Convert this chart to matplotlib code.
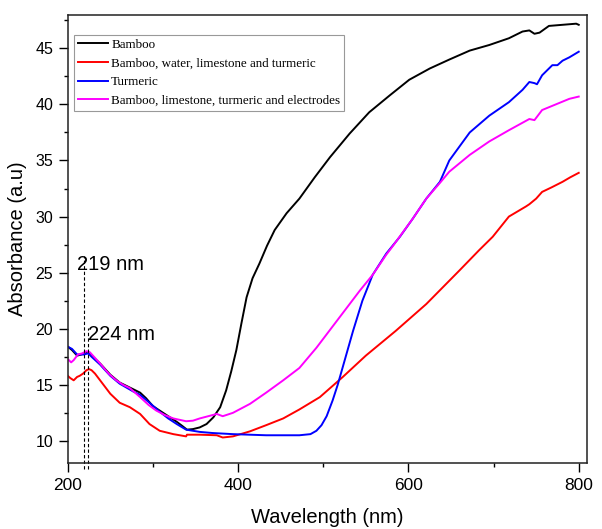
import matplotlib
matplotlib.use("Agg")
import matplotlib.pyplot as plt
from matplotlib.ticker import MultipleLocator

# UV-vis absorbance readings (wavelength in nm, absorbance in a.u)
wl_bamboo = [200, 205, 211, 216, 219, 224, 228, 238, 250, 261, 277, 285, 292, 300,
             308, 318, 328, 335, 340, 347, 355, 363, 371, 379, 386, 392, 398, 404,
             410, 417, 425, 434, 443, 457, 472, 490, 508, 531, 554, 578, 601, 625,
             648, 672, 695, 718, 734, 742, 748, 754, 765, 781, 797, 800]
abs_bamboo = [18.4, 18.1, 17.6, 17.7, 17.8, 17.9, 17.6, 16.9, 15.9, 15.2, 14.6, 14.3,
              13.8, 13.1, 12.7, 12.2, 11.7, 11.3, 11.0, 11.05, 11.2, 11.5, 12.1, 13.0,
              14.5, 16.2, 18.1, 20.5, 22.8, 24.5, 25.8, 27.4, 28.8, 30.3, 31.6, 33.5,
              35.3, 37.4, 39.3, 40.8, 42.2, 43.2, 44.0, 44.8, 45.3, 45.9, 46.5, 46.6,
              46.3, 46.4, 47.0, 47.1, 47.2, 47.1]

wl_mix = [200, 203, 207, 211, 214, 218, 222, 225, 228, 232, 238, 244, 250, 261, 273,
          285, 296, 308, 324, 339, 340, 355, 375, 382, 394, 414, 433, 453, 472, 496,
          523, 550, 585, 621, 660, 683, 699, 718, 738, 742, 750, 757, 768, 781, 790, 800]
abs_mix = [15.8, 15.6, 15.4, 15.7, 15.8, 16.0, 16.3, 16.4, 16.3, 16.0, 15.4, 14.8,
           14.2, 13.4, 13.0, 12.4, 11.5, 10.9, 10.6, 10.4, 10.55, 10.55, 10.5, 10.3,
           10.4, 10.85, 11.4, 12.0, 12.8, 13.9, 15.7, 17.6, 19.8, 22.2, 25.2, 27.0,
           28.2, 30.0, 30.9, 31.1, 31.6, 32.2, 32.6, 33.1, 33.5, 33.9]

wl_turmeric = [200, 205, 211, 219, 224, 228, 238, 250, 261, 277, 285, 296, 308, 318,
               328, 339, 347, 355, 370, 394, 433, 472, 485, 492, 498, 504, 511, 517,
               523, 529, 535, 546, 558, 574, 590, 605, 621, 637, 648, 672, 695, 718,
               734, 742, 748, 751, 757, 769, 775, 781, 789, 800]
abs_turmeric = [18.4, 18.2, 17.7, 17.7, 17.8, 17.5, 16.8, 15.8, 15.1, 14.4, 14.1,
                13.4, 12.6, 12.0, 11.5, 11.0, 10.9, 10.8, 10.7, 10.6, 10.5, 10.5, 10.6,
                10.9, 11.4, 12.2, 13.6, 15.0, 16.6, 18.2, 19.8, 22.5, 24.8, 26.7, 28.2,
                29.8, 31.6, 33.1, 35.0, 37.5, 39.0, 40.2, 41.3, 42.0, 41.9, 41.8, 42.6,
                43.5, 43.5, 43.9, 44.2, 44.7]

wl_electrodes = [200, 204, 207, 212, 217, 222, 226, 232, 238, 248, 257, 265, 273, 285,
                 295, 304, 314, 324, 339, 347, 355, 365, 375, 382, 394, 414, 433, 453,
                 472, 492, 511, 531, 543, 558, 574, 582, 605, 621, 637, 648, 672, 695,
                 718, 742, 748, 757, 773, 789, 800]
abs_electrodes = [17.3, 17.0, 17.2, 17.7, 17.8, 18.0, 17.9, 17.4, 16.9, 16.0, 15.4,
                  15.0, 14.7, 13.9, 13.2, 12.7, 12.3, 12.0, 11.75, 11.8, 12.0, 12.2,
                  12.4, 12.2, 12.5, 13.3, 14.3, 15.4, 16.5, 18.3, 20.2, 22.2, 23.4,
                  24.8, 26.6, 27.4, 29.8, 31.6, 33.0, 34.0, 35.5, 36.7, 37.7, 38.7,
                  38.6, 39.5, 40.0, 40.5, 40.7]

peaks = [219, 224]
peak_tops = [26.5, 20.1]
peak_labels = ["219 nm", "224 nm"]
label_pos = [(210.5, 25.7), (223.5, 19.5)]

fig = plt.figure(figsize=(6.02, 5.29), dpi=100)
ax = fig.add_axes([0.1125, 0.1242, 0.863, 0.848])

ax.plot(wl_bamboo, abs_bamboo, color="black", lw=1.4, label="Bamboo")
ax.plot(wl_mix, abs_mix, color="#ff0000", lw=1.4,
        label="Bamboo, water, limestone and turmeric")
ax.plot(wl_turmeric, abs_turmeric, color="#0000ff", lw=1.4, label="Turmeric")
ax.plot(wl_electrodes, abs_electrodes, color="#ff00ff", lw=1.4,
        label="Bamboo, limestone, turmeric and electrodes")

# dashed markers for the two peaks, running a little past the x axis
for x, top in zip(peaks, peak_tops):
    ax.plot([x, x], [7.45, top], color="black", lw=0.8, ls=(0, (3, 2)), clip_on=False)
for txt, (x, y) in zip(peak_labels, label_pos):
    ax.text(x, y, txt, fontsize=14.5, family="Liberation Sans", va="center", ha="left")

ax.set_xlim(200, 810)
ax.set_ylim(8, 48)
ax.xaxis.set_major_locator(MultipleLocator(200))
ax.xaxis.set_minor_locator(MultipleLocator(100))
ax.yaxis.set_major_locator(MultipleLocator(5))
ax.yaxis.set_minor_locator(MultipleLocator(2.5))
ax.tick_params(which="major", direction="out", length=6.5, width=1, pad=4)
ax.tick_params(which="minor", direction="out", length=3, width=1)
ax.tick_params(axis="x", labelsize=12.5)
ax.tick_params(axis="y", labelsize=11.5)
for lbl in ax.get_xticklabels() + ax.get_yticklabels():
    lbl.set_family("Liberation Sans")
for sp in ax.spines.values():
    sp.set_linewidth(1.1)
    sp.set_color("#222222")

ax.set_xlabel("Wavelength (nm)", fontsize=14.5, family="Liberation Sans", labelpad=11)
ax.set_ylabel("Absorbance (a.u)", fontsize=14.5, family="Liberation Sans", labelpad=6)

leg = ax.legend(loc="upper left", bbox_to_anchor=(0.0121, 0.9554), borderaxespad=0,
                prop={"family": "Liberation Serif", "size": 9.4}, fancybox=False,
                edgecolor="#808080", handlelength=2.3, handletextpad=0.25,
                labelspacing=0.5, borderpad=0.3)
leg.get_frame().set_linewidth(0.8)

fig.savefig("out.png", dpi=100)
